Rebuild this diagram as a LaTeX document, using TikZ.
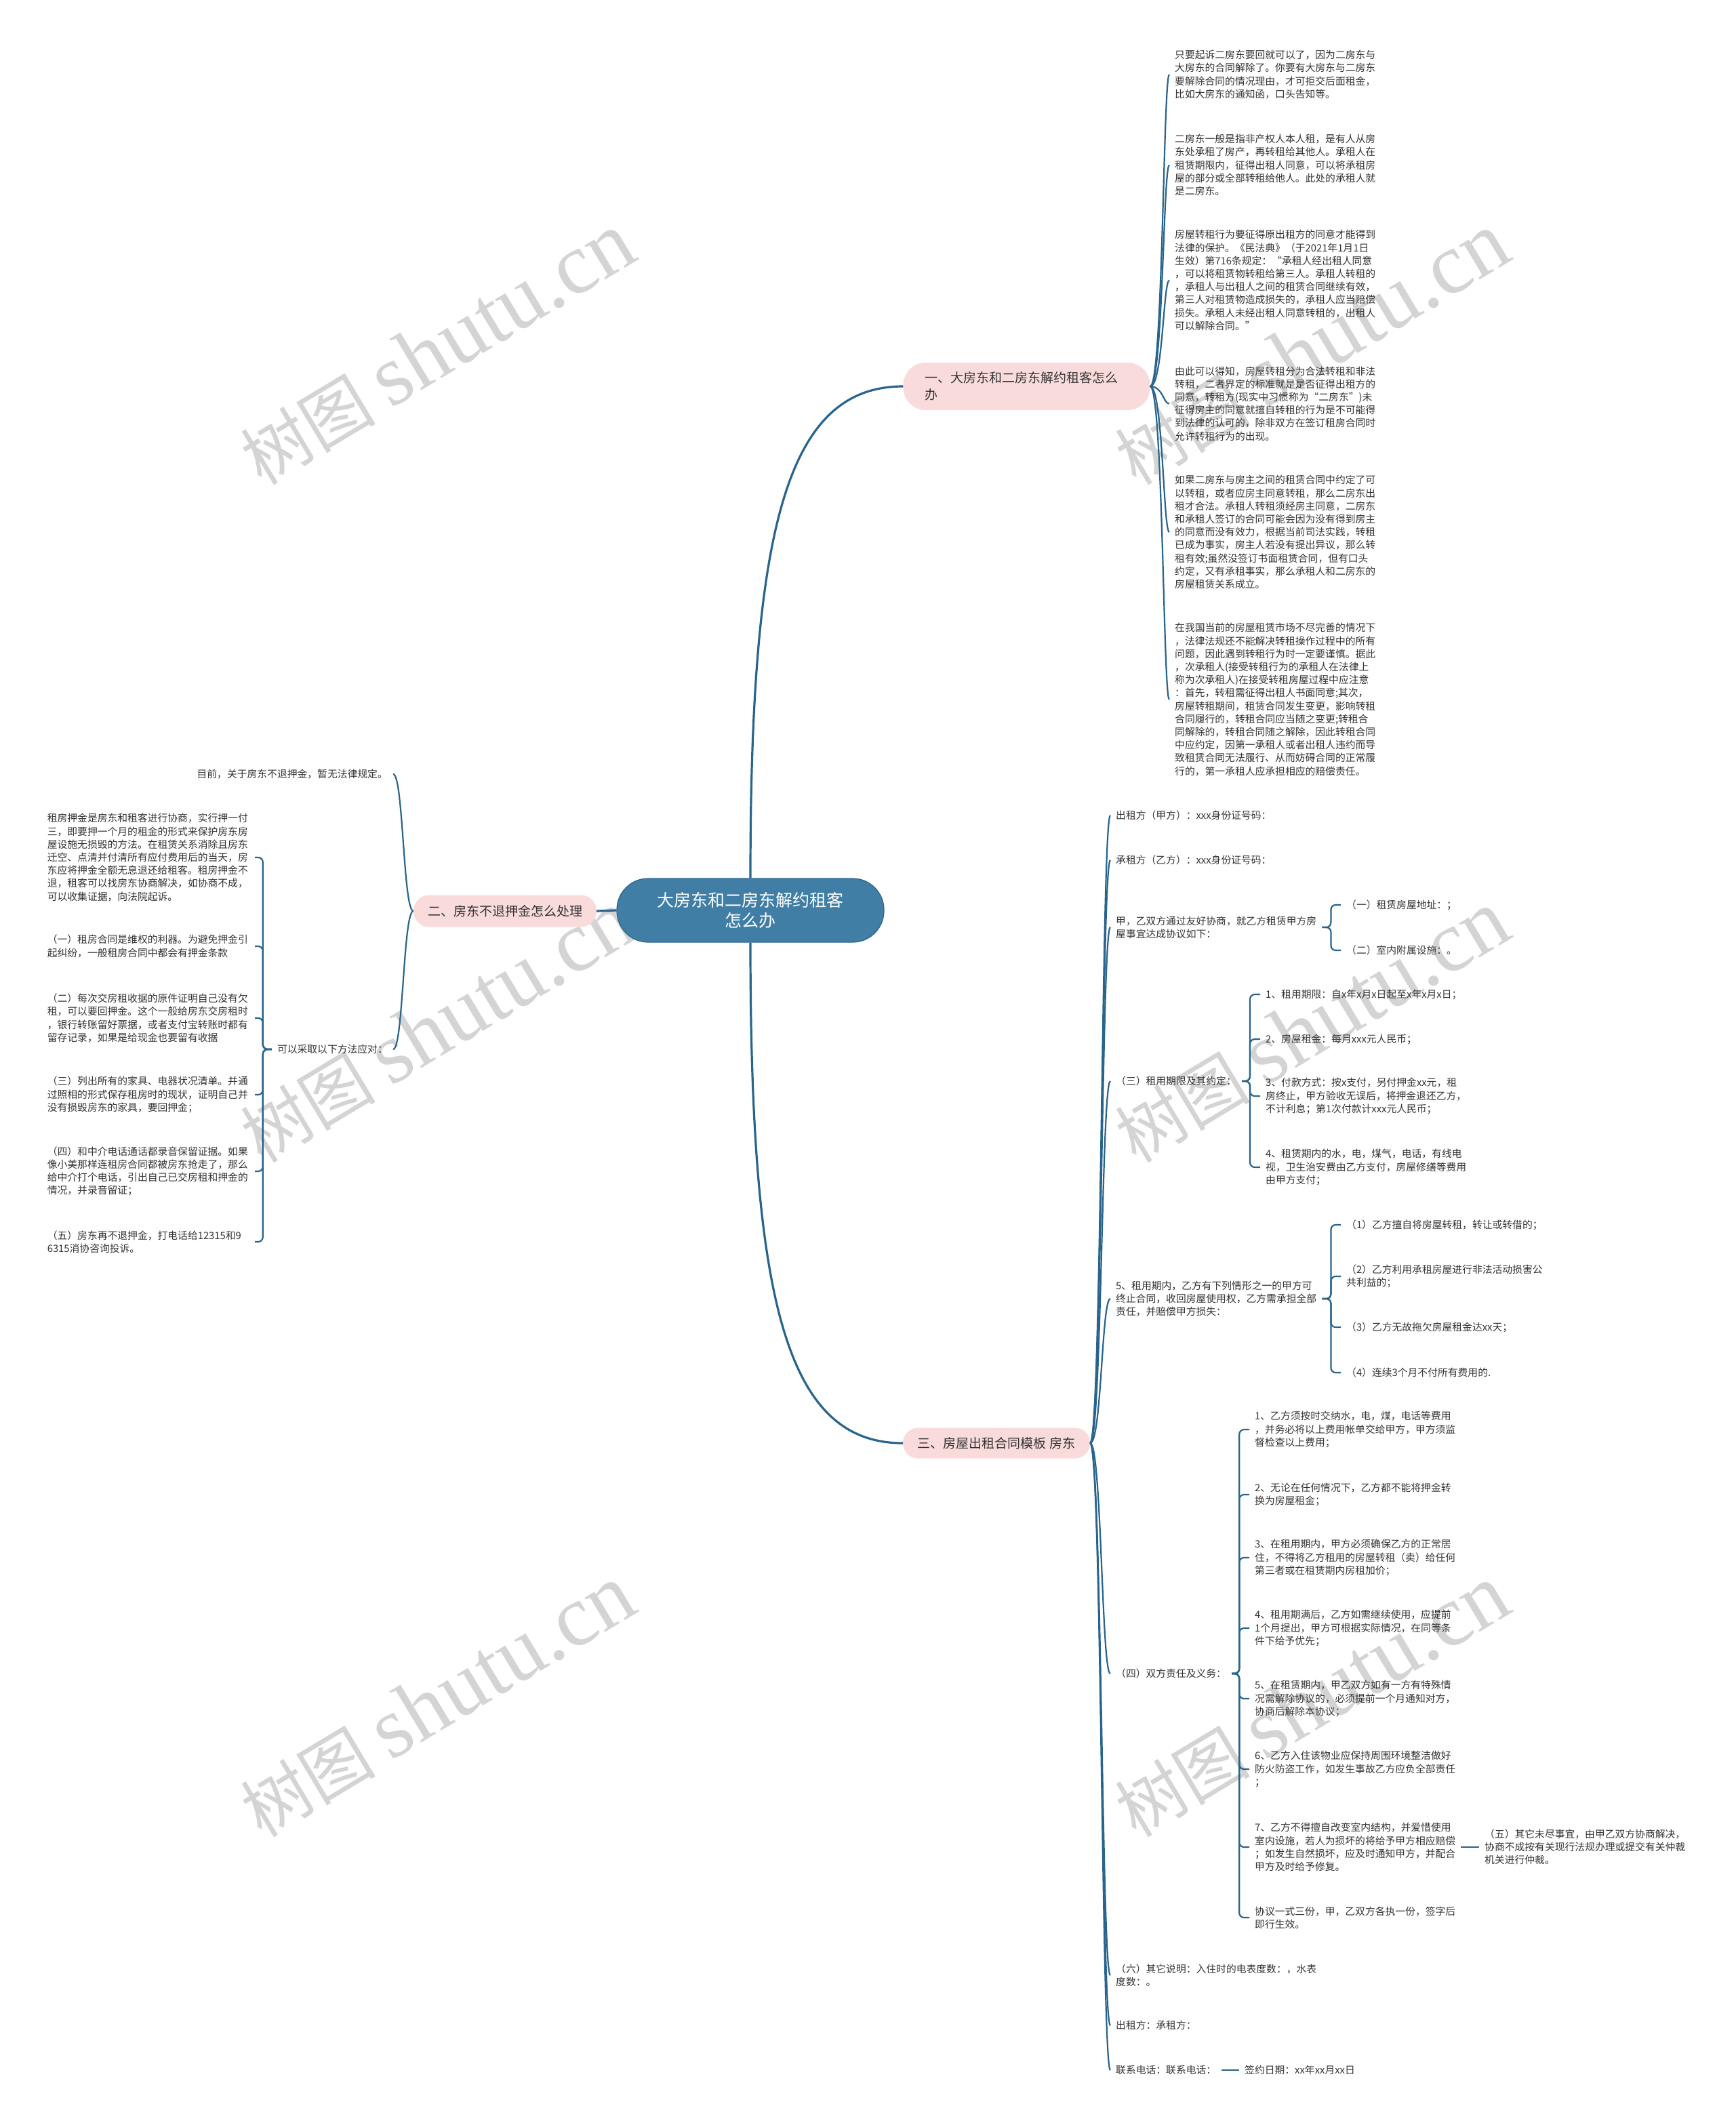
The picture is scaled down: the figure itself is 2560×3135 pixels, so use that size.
\documentclass[tikz,border=0pt]{standalone}
\usepackage{fontspec}
\setmainfont{Noto Sans CJK SC}
\newfontfamily\wmlatin{Liberation Serif}
\definecolor{linecol}{RGB}{40,100,140}
\definecolor{centerfill}{RGB}{64,126,165}
\definecolor{centerdraw}{RGB}{45,100,140}
\definecolor{pinkfill}{RGB}{250,219,220}
\definecolor{textcol}{RGB}{51,51,51}
\definecolor{wmcol}{RGB}{212,212,212}
\begin{document}
\begin{tikzpicture}[x=1pt,y=-1pt,
  txt/.style={font=\fontsize{14.8}{19.2}\selectfont, text=textcol, align=left, inner xsep=8pt, inner ysep=0pt, anchor=west},
  ltxt/.style={txt, anchor=east},
  ktxt/.style={txt, anchor=east, text width=298pt},
  conn/.style={draw=linecol, line width=2.2pt},
  mainconn/.style={draw=linecol, line width=3.2pt},
  br/.style={conn, rounded corners=7pt},
  branch/.style={fill=pinkfill, text=textcol, font=\fontsize{19}{25}\selectfont},
  wm/.style={text=wmcol, font=\fontsize{100}{100}\selectfont, rotate=31, inner sep=0pt}
]
\useasboundingbox (0,0) rectangle (2560,3135);
\fill[white] (0,0) rectangle (2560,3135);

% watermarks
\newcommand{\wmtext}{树图 {\wmlatin\fontsize{128}{128}\selectfont shutu.cn}}
\node[wm] (wm1) at (645,515) {\wmtext};
\node[wm] (wm2) at (1935,515) {\wmtext};
\node[wm] (wm3) at (645,1515) {\wmtext};
\node[wm] (wm4) at (1935,1515) {\wmtext};
\node[wm] (wm5) at (645,2510) {\wmtext};
\node[wm] (wm6) at (1935,2510) {\wmtext};

% center
\node[fill=centerfill, draw=centerdraw, line width=1.2pt, rounded corners=46pt, minimum width=394pt, minimum height=94pt, text=white, align=center, font=\fontsize{25}{30}\selectfont] (C) at (1107,1343) {大房东和二房东解约租客\\怎么办};

% branches
\node[branch, rounded corners=33pt, text width=300pt, align=left, inner xsep=32pt, minimum height=70pt] (B1) at (1514.5,570) {一、大房东和二房东解约租客怎么\\办};
\node[branch, rounded corners=23pt, minimum width=270pt, minimum height=47pt] (B2) at (745,1344) {二、房东不退押金怎么处理};
\node[branch, rounded corners=22pt, minimum width=276pt, minimum height=45pt] (B3) at (1470,2129) {三、房屋出租合同模板 房东};

\draw[mainconn] (C.north) .. controls (1107,780) and (1160,570) .. (B1.west);
\draw[mainconn] (C.south) .. controls (1107,1920) and (1160,2129) .. (B3.west);
\draw[mainconn] (C.west) -- (B2.east);

% branch 1 children
\node[txt] (P1) at (1725,110) {只要起诉二房东要回就可以了，因为二房东与\\大房东的合同解除了。你要有大房东与二房东\\要解除合同的情况理由，才可拒交后面租金，\\比如大房东的通知函，口头告知等。};
\node[txt] (P2) at (1725,243.5) {二房东一般是指非产权人本人租，是有人从房\\东处承租了房产，再转租给其他人。承租人在\\租赁期限内，征得出租人同意，可以将承租房\\屋的部分或全部转租给他人。此处的承租人就\\是二房东。};
\node[txt] (P3) at (1725,413.5) {房屋转租行为要征得原出租方的同意才能得到\\法律的保护。《民法典》（于2021年1月1日\\生效）第716条规定：“承租人经出租人同意\\，可以将租赁物转租给第三人。承租人转租的\\，承租人与出租人之间的租赁合同继续有效，\\第三人对租赁物造成损失的，承租人应当赔偿\\损失。承租人未经出租人同意转租的，出租人\\可以解除合同。”};
\node[txt] (P4) at (1725,595.5) {由此可以得知，房屋转租分为合法转租和非法\\转租，二者界定的标准就是是否征得出租方的\\同意，转租方(现实中习惯称为“二房东”)未\\征得房主的同意就擅自转租的行为是不可能得\\到法律的认可的，除非双方在签订租房合同时\\允许转租行为的出现。};
\node[txt] (P5) at (1725,785) {如果二房东与房主之间的租赁合同中约定了可\\以转租，或者应房主同意转租，那么二房东出\\租才合法。承租人转租须经房主同意，二房东\\和承租人签订的合同可能会因为没有得到房主\\的同意而没有效力，根据当前司法实践，转租\\已成为事实，房主人若没有提出异议，那么转\\租有效;虽然没签订书面租赁合同，但有口头\\约定，又有承租事实，那么承租人和二房东的\\房屋租赁关系成立。};
\node[txt] (P6) at (1725,1032) {在我国当前的房屋租赁市场不尽完善的情况下\\，法律法规还不能解决转租操作过程中的所有\\问题，因此遇到转租行为时一定要谨慎。据此\\，次承租人(接受转租行为的承租人在法律上\\称为次承租人)在接受转租房屋过程中应注意\\：首先，转租需征得出租人书面同意;其次，\\房屋转租期间，租赁合同发生变更，影响转租\\合同履行的，转租合同应当随之变更;转租合\\同解除的，转租合同随之解除，因此转租合同\\中应约定，因第一承租人或者出租人违约而导\\致租赁合同无法履行、从而妨碍合同的正常履\\行的，第一承租人应承担相应的赔偿责任。};
\foreach \p in {P1,P2,P3,P4,P5,P6}
  \draw[conn] (B1.east) .. controls +(19,0) and +(-9,0) .. (\p.west);

% branch 2 children
\node[ltxt] (C2a) at (580,1142) {目前，关于房东不退押金，暂无法律规定。};
\node[ltxt] (C2b) at (580,1548) {可以采取以下方法应对：};
\foreach \p in {C2a,C2b}
  \draw[conn] (B2.west) .. controls +(-15,0) and +(15,0) .. (\p.east);

\node[ktxt] (K0) at (376,1265) {租房押金是房东和租客进行协商，实行押一付\\三，即要押一个月的租金的形式来保护房东房\\屋设施无损毁的方法。在租赁关系消除且房东\\迁空、点清并付清所有应付费用后的当天，房\\东应将押金全额无息退还给租客。租房押金不\\退，租客可以找房东协商解决，如协商不成，\\可以收集证据，向法院起诉。};
\node[ktxt] (K1) at (376,1396) {（一）租房合同是维权的利器。为避免押金引\\起纠纷，一般租房合同中都会有押金条款};
\node[ktxt] (K2) at (376,1502) {（二）每次交房租收据的原件证明自己没有欠\\租，可以要回押金。这个一般给房东交房租时\\，银行转账留好票据，或者支付宝转账时都有\\留存记录，如果是给现金也要留有收据};
\node[ktxt] (K3) at (376,1615) {（三）列出所有的家具、电器状况清单。并通\\过照相的形式保存租房时的现状，证明自己并\\没有损毁房东的家具，要回押金；};
\node[ktxt] (K4) at (376,1728) {（四）和中介电话通话都录音保留证据。如果\\像小美那样连租房合同都被房东抢走了，那么\\给中介打个电话，引出自己已交房租和押金的\\情况，并录音留证；};
\node[ktxt] (K5) at (376,1832) {（五）房东再不退押金，打电话给12315和9\\6315消协咨询投诉。};
\foreach \k in {K0,K1,K2,K3,K4,K5}
  \draw[br] (C2b.west) -- ++(-13,0) |- (\k.east);

% branch 3 children
\node[txt] (D1) at (1638,1203) {出租方（甲方）：xxx身份证号码：};
\node[txt] (D2) at (1638,1269) {承租方（乙方）：xxx身份证号码：};
\node[txt] (D3) at (1638,1368) {甲，乙双方通过友好协商，就乙方租赁甲方房\\屋事宜达成协议如下：};
\node[txt] (D4) at (1638,1595) {（三）租用期限及其约定：};
\node[txt] (D5) at (1638,1916) {5、租用期内，乙方有下列情形之一的甲方可\\终止合同，收回房屋使用权，乙方需承担全部\\责任，并赔偿甲方损失：};
\node[txt] (D6) at (1638,2469) {（四）双方责任及义务：};
\node[txt] (D7) at (1638,2914) {（六）其它说明：入住时的电表度数：，水表\\度数：。};
\node[txt] (D8) at (1638,2988) {出租方：承租方：};
\node[txt] (D9) at (1638,3054) {联系电话：联系电话：};
\foreach \d in {D1,D2,D3,D4,D5,D6,D7,D8,D9}
  \draw[conn] (B3.east) .. controls +(17,0) and +(-13,0) .. (\d.west);

\node[txt] (D3a) at (1978,1335) {（一）租赁房屋地址：；};
\node[txt] (D3b) at (1978,1402) {（二）室内附属设施：。};
\foreach \c in {D3a,D3b}
  \draw[br] (D3.east) -- ++(13,0) |- (\c.west);

\node[txt] (E1) at (1859,1467) {1、租用期限：自x年x月x日起至x年x月x日；};
\node[txt] (E2) at (1859,1533) {2、房屋租金：每月xxx元人民币；};
\node[txt] (E3) at (1859,1617) {3、付款方式：按x支付，另付押金xx元，租\\房终止，甲方验收无误后，将押金退还乙方，\\不计利息；第1次付款计xxx元人民币；};
\node[txt] (E4) at (1859,1722) {4、租赁期内的水，电，煤气，电话，有线电\\视，卫生治安费由乙方支付，房屋修缮等费用\\由甲方支付；};
\foreach \c in {E1,E2,E3,E4}
  \draw[br] (D4.east) -- ++(12,0) |- (\c.west);

\node[txt] (F1) at (1978,1807) {（1）乙方擅自将房屋转租，转让或转借的；};
\node[txt] (F2) at (1978,1883) {（2）乙方利用承租房屋进行非法活动损害公\\共利益的；};
\node[txt] (F3) at (1978,1958) {（3）乙方无故拖欠房屋租金达xx天；};
\node[txt] (F4) at (1978,2025) {（4）连续3个月不付所有费用的.};
\foreach \c in {F1,F2,F3,F4}
  \draw[br] (D5.east) -- ++(13,0) |- (\c.west);

\node[txt] (G1) at (1843,2109) {1、乙方须按时交纳水，电，煤，电话等费用\\，并务必将以上费用帐单交给甲方，甲方须监\\督检查以上费用；};
\node[txt] (G2) at (1843,2205) {2、无论在任何情况下，乙方都不能将押金转\\换为房屋租金；};
\node[txt] (G3) at (1843,2298) {3、在租用期内，甲方必须确保乙方的正常居\\住，不得将乙方租用的房屋转租（卖）给任何\\第三者或在租赁期内房租加价；};
\node[txt] (G4) at (1843,2402) {4、租用期满后，乙方如需继续使用，应提前\\1个月提出，甲方可根据实际情况，在同等条\\件下给予优先；};
\node[txt] (G5) at (1843,2506) {5、在租赁期内，甲乙双方如有一方有特殊情\\况需解除协议的，必须提前一个月通知对方，\\协商后解除本协议；};
\node[txt] (G6) at (1843,2610) {6、乙方入住该物业应保持周围环境整洁做好\\防火防盗工作，如发生事故乙方应负全部责任\\；};
\node[txt] (G7) at (1843,2725) {7、乙方不得擅自改变室内结构，并爱惜使用\\室内设施，若人为损坏的将给予甲方相应赔偿\\；如发生自然损坏，应及时通知甲方，并配合\\甲方及时给予修复。};
\node[txt] (G8) at (1843,2829) {协议一式三份，甲，乙双方各执一份，签字后\\即行生效。};
\foreach \c in {G1,G2,G3,G4,G5,G6,G7,G8}
  \draw[br] (D6.east) -- ++(11,0) |- (\c.west);

\node[txt] (H) at (2182,2725) {（五）其它未尽事宜，由甲乙双方协商解决，\\协商不成按有关现行法规办理或提交有关仲裁\\机关进行仲裁。};
\draw[conn] (G7.east) -- (H.west);

\node[txt] (D9a) at (1828,3054) {签约日期：xx年xx月xx日};
\draw[conn] (D9.east) -- (D9a.west);
\end{tikzpicture}
\end{document}
